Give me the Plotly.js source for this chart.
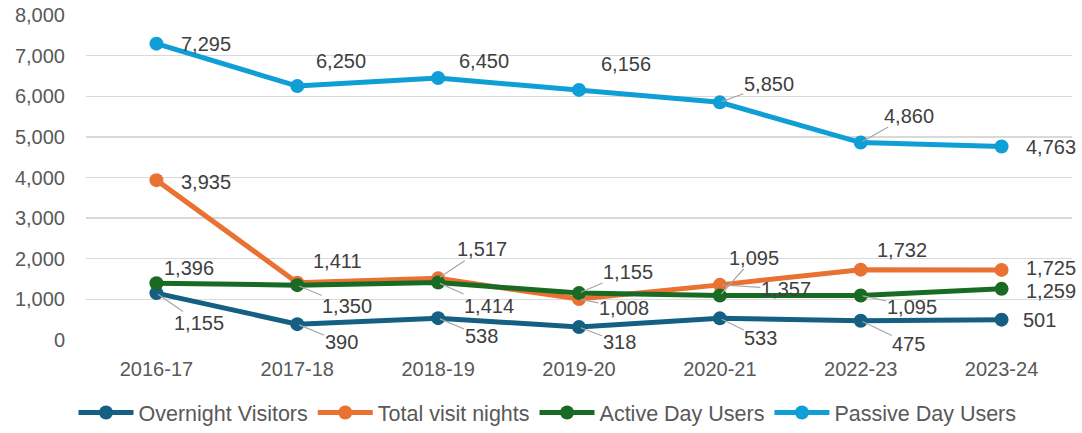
<!DOCTYPE html>
<html>
<head>
<meta charset="utf-8">
<script src="https://cdn.plot.ly/plotly-3.0.1.min.js"></script>
<style>html,body{margin:0;padding:0;background:#fff;}#chart{width:1082px;height:433px;}</style>
</head>
<body>
<div id="chart"></div>
<script>
const years = ["2016-17","2017-18","2018-19","2019-20","2020-21","2022-23","2023-24"];
const overnightVisitors = [1155, 390, 538, 318, 533, 475, 501];
const totalVisitNights = [3935, 1411, 1517, 1008, 1357, 1732, 1725];
const activeDayUsers = [1396, 1350, 1414, 1155, 1095, 1095, 1259];
const passiveDayUsers = [7295, 6250, 6450, 6156, 5850, 4860, 4763];
const yTicks = [0,1000,2000,3000,4000,5000,6000,7000,8000];

const FONT = "'Liberation Sans', Arial, sans-serif";

// label offsets (pixels) and whether a leader line is drawn
const labelStyle = {
  passive:   {off:[[50,0],[44,-25],[46,-17],[47,-26],[49,-18],[48,-27],[49,0]], lead:[0,0,0,0,1,1,0]},
  nights:    {off:[[50,2],[40,-22],[44,-29],[45,9],[66,4],[41,-20],[49,-2]], lead:[0,0,1,1,1,0,0]},
  active:    {off:[[33,-15],[50,21],[51,23],[49,-21],[34,-38],[51,11],[49,2]], lead:[0,1,1,1,1,1,0]},
  overnight: {off:[[43,30],[44,18],[43,18],[40,15],[41,20],[48,23],[38,0]], lead:[1,1,1,1,1,1,0]}
};

const series = [
  {name:"Overnight Visitors", y:overnightVisitors, color:"#156082", key:"overnight"},
  {name:"Total visit nights", y:totalVisitNights, color:"#E97132", key:"nights"},
  {name:"Active Day Users", y:activeDayUsers, color:"#196B24", key:"active"},
  {name:"Passive Day Users", y:passiveDayUsers, color:"#0F9ED5", key:"passive"}
];

const traces = series.map(s => ({
  type:"scatter", mode:"lines+markers", name:s.name, x:years, y:s.y,
  line:{color:s.color, width:5}, marker:{color:s.color, size:14}
}));

const annotations = [];
series.forEach(s => {
  const st = labelStyle[s.key];
  s.y.forEach((v,i) => {
    annotations.push({
      x:years[i], y:v, xref:"x", yref:"y",
      text:v.toLocaleString("en-US"),
      showarrow:true, arrowhead:0, arrowwidth:1.2,
      arrowcolor: st.lead[i] ? "#a6a6a6" : "rgba(0,0,0,0)",
      ax:st.off[i][0], ay:st.off[i][1], standoff:2, borderpad:0,
      font:{family:FONT, size:20, color:"#404040"}
    });
  });
});

const layout = {
  width:1082, height:433,
  margin:{l:86, r:10, t:15, b:93},
  paper_bgcolor:"#fff", plot_bgcolor:"#fff",
  showlegend:true,
  legend:{orientation:"h", xref:"container", yref:"container", x:0.506, xanchor:"center", y:0.0, yanchor:"bottom",
    font:{family:FONT, size:21.5, color:"#595959"},
    itemwidth:55, tracegroupgap:0},
  xaxis:{type:"category", range:[-0.5,6.5], showgrid:false, zeroline:false, showline:false, ticks:"",
    tickfont:{family:FONT, size:20, color:"#595959"}, ticklabelstandoff:15},
  yaxis:{range:[0,8000], tickvals:yTicks, tickformat:",", showgrid:true, gridcolor:"#d9d9d9", gridwidth:1.3,
    zeroline:false, showline:false, ticks:"",
    tickfont:{family:FONT, size:20, color:"#595959"}, ticklabelstandoff:20},
  annotations:annotations
};

Plotly.newPlot("chart", traces, layout, {displayModeBar:false, staticPlot:true});
</script>
</body>
</html>
